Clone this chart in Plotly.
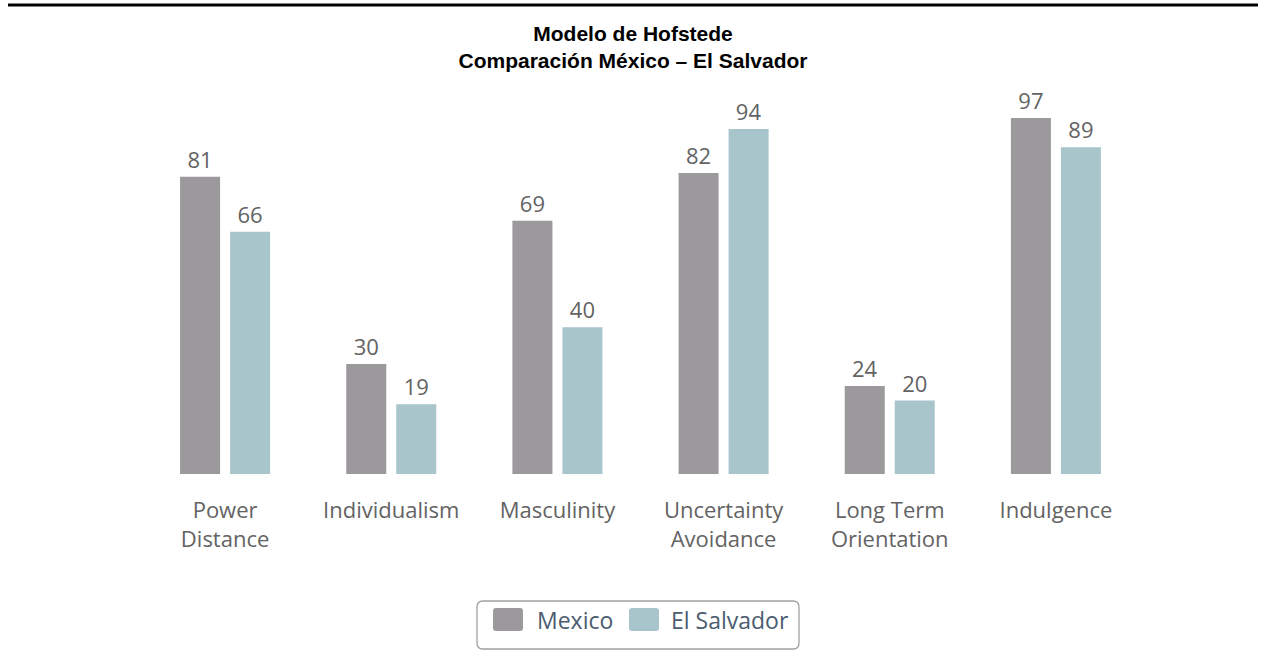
import plotly.graph_objects as go

# Dimensions Hofstede
dimensions = [
    "Power<br>Distance", "Individualism", "Masculinity",
    "Uncertainty<br>Avoidance", "Long Term<br>Orientation", "Indulgence",
]
mexico = [81, 30, 69, 82, 24, 97]
el_salvador = [66, 19, 40, 94, 20, 89]

series = [("Mexico", mexico, "#9b999c"), ("El Salvador", el_salvador, "#a8c5cc")]
TXT = "#636363"
LEG_TXT = "#4b5c70"

W, H = 1266, 660
L, R, T, B = 142, 127, 107, 186
PW, PH = W - L - R, H - T - B


def px_x(x):
    return (x - L) / PW


def px_y(y):
    return (H - B - y) / PH


def rounded_rect(x0, y0, x1, y1, r):
    pts = [
        f"M {px_x(x0 + r)} {px_y(y0)}", f"L {px_x(x1 - r)} {px_y(y0)}",
        f"Q {px_x(x1)} {px_y(y0)} {px_x(x1)} {px_y(y0 + r)}", f"L {px_x(x1)} {px_y(y1 - r)}",
        f"Q {px_x(x1)} {px_y(y1)} {px_x(x1 - r)} {px_y(y1)}", f"L {px_x(x0 + r)} {px_y(y1)}",
        f"Q {px_x(x0)} {px_y(y1)} {px_x(x0)} {px_y(y1 - r)}", f"L {px_x(x0)} {px_y(y0 + r)}",
        f"Q {px_x(x0)} {px_y(y0)} {px_x(x0 + r)} {px_y(y0)} Z",
    ]
    return " ".join(pts)


fig = go.Figure()
for name, vals, c in series:
    fig.add_trace(go.Bar(
        name=name, x=dimensions, y=vals,
        marker=dict(color=c, line=dict(width=0)),
        text=vals, textposition="outside", cliponaxis=False,
        textfont=dict(family="Open Sans", size=22, color=TXT),
        showlegend=False,
    ))

# Légende dessinée à la main (cadre arrondi + grandes pastilles)
shapes = [
    dict(type="rect", xref="paper", yref="paper",
         x0=px_x(8), x1=px_x(1258), y0=px_y(6.5), y1=px_y(3.5),
         fillcolor="black", line=dict(width=0)),
    dict(type="path", xref="paper", yref="paper",
         path=rounded_rect(477, 601, 799, 649, 6),
         line=dict(color="#a0a0a0", width=1.3)),
]
annotations = []
leg_items = [(493, 535), (629, 669)]
for (sx, tx), (name, _, c) in zip(leg_items, series):
    shapes.append(dict(type="path", xref="paper", yref="paper",
                       path=rounded_rect(sx, 608, sx + 30, 631, 3),
                       fillcolor=c, line=dict(width=0)))
    annotations.append(dict(
        text=name, xref="paper", yref="paper", x=px_x(tx), y=px_y(620),
        xanchor="left", yanchor="middle", showarrow=False,
        font=dict(family="Open Sans", size=23, color=LEG_TXT),
    ))

fig.update_layout(
    width=W, height=H,
    paper_bgcolor="white", plot_bgcolor="white",
    margin=dict(l=L, r=R, t=T, b=B),
    barmode="group", bargap=0.398, bargroupgap=0.2,
    title=dict(
        text="Modelo de Hofstede<br>Comparación México – El Salvador",
        x=0.5, xref="container", xanchor="center",
        y=1 - 41 / H, yref="container", yanchor="top",
        font=dict(family="Liberation Sans, Arial", size=21, color="black", weight="bold"),
    ),
    xaxis=dict(
        showgrid=False, showline=False, zeroline=False, ticks="",
        ticklabelstandoff=21,
        tickfont=dict(family="Open Sans", size=22, color=TXT),
    ),
    yaxis=dict(range=[0, 100], visible=False, showgrid=False),
    showlegend=False,
    shapes=shapes,
    annotations=annotations,
)

fig.write_html("out.html", config={"displayModeBar": False},
               post_script="document.body.style.margin='0';")
